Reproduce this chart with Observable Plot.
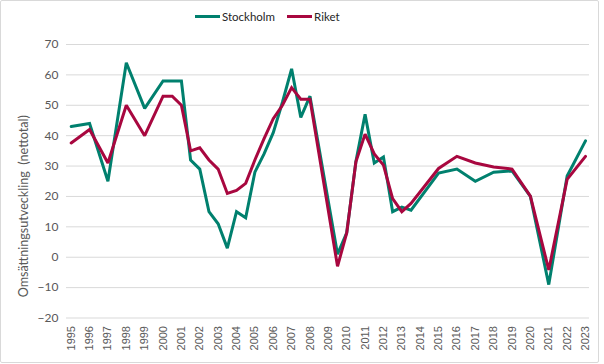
<!DOCTYPE html>
<html>
<head>
<meta charset="utf-8">
<script src="https://cdn.jsdelivr.net/npm/d3@7"></script>
<script src="https://cdn.jsdelivr.net/npm/@observablehq/plot@0.6"></script>
<style>
  html, body { margin: 0; padding: 0; background: #fff; }
  #wrap { position: relative; width: 604px; height: 364px; overflow: hidden; }
  #frame { position: absolute; left: 0; top: 0; width: 597px; height: 361px; border: 1px solid #d9d9d9; border-radius: 2px; pointer-events: none; }
  #legend { position: absolute; top: 8px; left: 195px; height: 16px; display: flex; align-items: center; font-family: Lato, "Open Sans", sans-serif; font-size: 11.5px; color: #262626; }
  #legend .sw { display: inline-block; width: 25px; height: 3px; margin-right: 2px; }
  #legend .item { display: flex; align-items: center; margin-right: 12px; }
  #spacer { height: 30px; }
</style>
</head>
<body>
<div id="wrap">
  <div id="legend"></div>
  <div id="spacer"></div>
  <div id="chart"></div>
  <div id="frame"></div>
</div>
<script>
// Period (fractional year) for each observation
const periods = [1995,1996,1997,1998,1999,2000,2000.5,2001,2001.5,2002,2002.5,2003,2003.5,2004,2004.5,2005,2005.5,2006,2006.5,2007,2007.5,2008,2009.5,2010,2010.5,2011,2011.5,2012,2012.5,2013,2013.5,2015,2016,2017,2018,2019,2020,2021,2022,2023];
const stockholm = [43,44,25,64,49,58,58,58,32,29,15,11,3,15,13,28,34,41,51,62,46,53,1,8,31.5,47,31,33,15,16.5,15.5,27.7,29,25,28,28.4,20,-9,26.7,38.3];
const riket = [37.6,42,31,50,40,53,53,50,35,36,32,29,21,22,24.3,32,39,45.6,50,55.8,52,52,-3,8,31.4,40.5,34,30.3,19.3,15,17.7,29.2,33.2,31,29.7,29,20.1,-4.2,25.6,33.2];
const seriesNames = ["Stockholm", "Riket"];
const seriesColors = ["#00806e", "#a8073f"];
const yearTicks = d3.range(1995, 2024);
const yTicks = [-20,-10,0,10,20,30,40,50,60,70];
const yTitle = "Omsättningsutveckling  (nettotal)";

const data = [];
periods.forEach((p, i) => {
  data.push({period: p, value: stockholm[i], series: seriesNames[0]});
});
periods.forEach((p, i) => {
  data.push({period: p, value: riket[i], series: seriesNames[1]});
});

// Legend
const legend = document.getElementById("legend");
seriesNames.forEach((name, i) => {
  const item = document.createElement("span");
  item.className = "item";
  const sw = document.createElement("span");
  sw.className = "sw";
  sw.style.background = seriesColors[i];
  item.appendChild(sw);
  item.appendChild(document.createTextNode(name));
  legend.appendChild(item);
});

const chart = Plot.plot({
  width: 604,
  height: 334,
  marginLeft: 66,
  marginRight: 15,
  marginTop: 14,
  marginBottom: 46.5,
  style: {background: "transparent", fontFamily: "Lato, sans-serif"},
  x: {type: "linear", domain: [1994.744, 2023.218]},
  y: {domain: [-20, 70]},
  color: {domain: seriesNames, range: seriesColors},
  marks: [
    Plot.ruleY(yTicks, {stroke: "#d9d9d9", strokeWidth: 1}),
    Plot.axisY(yTicks, {tickSize: 0, tickPadding: 8, fontFamily: "Lato, sans-serif", fontSize: 12, fill: "#595959", label: null}),
    Plot.axisX(yearTicks, {tickSize: 0, tickPadding: 8, tickRotate: -90, tickFormat: d => String(d), fontFamily: "Liberation Sans, Arial, sans-serif", fontSize: 11, fill: "#595959", label: null}),
    Plot.line(data.filter(d => d.series === "Stockholm"), {x: "period", y: "value", stroke: "series", strokeWidth: 3, strokeLinejoin: "miter", strokeMiterlimit: 2}),
    Plot.line(data.filter(d => d.series === "Riket"), {x: "period", y: "value", stroke: "series", strokeWidth: 3, strokeLinejoin: "miter", strokeMiterlimit: 2}),
    Plot.text([yTitle], {frameAnchor: "left", dx: -43, dy: 25, rotate: -90, textAnchor: "middle", fontFamily: "Lato, sans-serif", fontSize: 12.6, fill: "#595959"})
  ]
});
document.getElementById("chart").appendChild(chart);
chart.querySelectorAll("text").forEach(t => {
  if (t.textContent === yTitle) t.style.whiteSpace = "pre";
});
</script>
</body>
</html>
